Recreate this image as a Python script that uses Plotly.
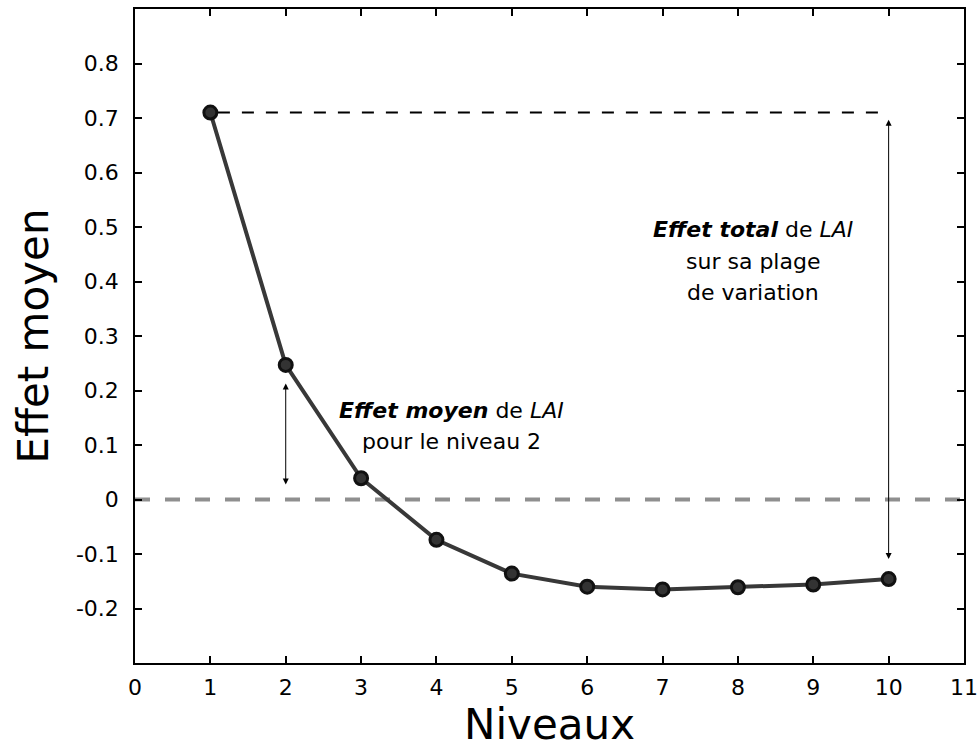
import plotly.graph_objects as go

# Levels and mean effect of LAI per level
niveaux = [1, 2, 3, 4, 5, 6, 7, 8, 9, 10]
effet_moyen = [0.710, 0.247, 0.039, -0.074, -0.136, -0.160, -0.165, -0.161, -0.156, -0.146]

x_ticks = list(range(0, 12))
y_ticks = [-0.2, -0.1, 0, 0.1, 0.2, 0.3, 0.4, 0.5, 0.6, 0.7, 0.8]
y_tick_text = ["-0.2", "-0.1", "0", "0.1", "0.2", "0.3", "0.4", "0.5", "0.6", "0.7", "0.8"]

# Text blocks, one entry per line: (x, y, text)
texte_niveau2 = [
    (4.2, 0.163, "<b><i>Effet moyen</i></b> de <i>LAI</i>"),
    (4.2, 0.106, "pour le niveau 2"),
]
texte_total = [
    (8.2, 0.495, "<b><i>Effet total</i></b> de <i>LAI</i>"),
    (8.2, 0.437, "sur sa plage"),
    (8.2, 0.380, "de variation"),
]

FONT = "DejaVu Sans, Liberation Sans, Arial, sans-serif"

fig = go.Figure()

# zero reference line
fig.add_trace(go.Scatter(
    x=[0, 11], y=[0, 0], mode="lines",
    line=dict(color="#8f8f8f", width=4, dash="15px,15px"),
    hoverinfo="skip", showlegend=False,
))

# dashed line at the level-1 value, out to the last level
fig.add_trace(go.Scatter(
    x=[1.1, niveaux[-1]], y=[effet_moyen[0], effet_moyen[0]], mode="lines",
    line=dict(color="black", width=2, dash="12px,12px"),
    hoverinfo="skip", showlegend=False,
))

# mean effect curve
fig.add_trace(go.Scatter(
    x=niveaux, y=effet_moyen, mode="lines+markers",
    line=dict(color="#383838", width=4),
    marker=dict(size=13, color="#333333", line=dict(color="#111111", width=3)),
    showlegend=False,
))

# double-headed arrow: mean effect for level 2
fig.add_annotation(
    x=2, y=0.213, ax=2, ay=0.025, xref="x", yref="y", axref="x", ayref="y",
    text="", showarrow=True, arrowhead=2, startarrowhead=2, arrowside="end+start",
    arrowsize=1.2, startarrowsize=1.2, arrowwidth=1, arrowcolor="black",
)

# double-headed arrow: total effect over the range
fig.add_annotation(
    x=10, y=0.697, ax=10, ay=-0.112, xref="x", yref="y", axref="x", ayref="y",
    text="", showarrow=True, arrowhead=2, startarrowhead=2, arrowside="end+start",
    arrowsize=1.2, startarrowsize=1.2, arrowwidth=1, arrowcolor="black",
)

for tx, ty, txt in texte_niveau2 + texte_total:
    fig.add_annotation(
        x=tx, y=ty, xref="x", yref="y", showarrow=False, align="center",
        text=txt, font=dict(family=FONT, size=22, color="black"),
    )

axis_common = dict(
    showgrid=False, zeroline=False, showline=True, linecolor="black", linewidth=1.5,
    mirror="ticks", ticks="inside", ticklen=7, tickwidth=1.5, tickcolor="black",
    tickfont=dict(family=FONT, size=22, color="black"), automargin=False,
)

fig.update_xaxes(
    range=[0, 11], tickvals=x_ticks, ticktext=[str(v) for v in x_ticks],
    ticklabelstandoff=4,
    title=dict(text="Niveaux", font=dict(family=FONT, size=42, color="black"), standoff=2),
    **axis_common,
)
fig.update_yaxes(
    range=[-0.3, 0.9], tickvals=y_ticks, ticktext=y_tick_text,
    ticklabelstandoff=10,
    title=dict(text="Effet moyen", font=dict(family=FONT, size=42, color="black"), standoff=14),
    **axis_common,
)

fig.update_layout(
    width=980, height=749,
    margin=dict(l=135, r=16, t=9, b=86),
    plot_bgcolor="white", paper_bgcolor="white",
    font=dict(family=FONT, color="black"),
)

fig.write_html("out.html")
